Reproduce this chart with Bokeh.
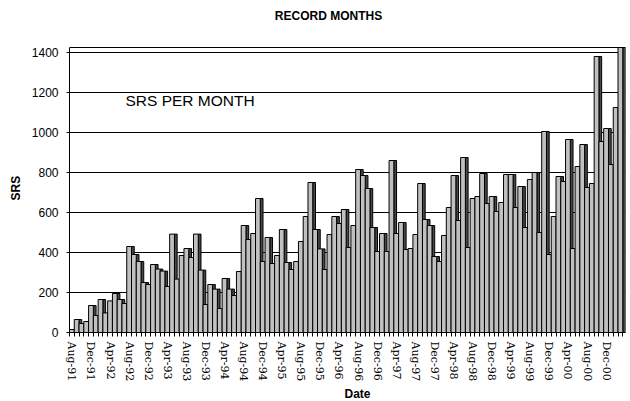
from bokeh.plotting import figure
from bokeh.models import FixedTicker, Label, Range1d, ColumnDataSource, Span, Title
from bokeh.embed import file_html
from bokeh.resources import INLINE

# SRS per month, Aug-91 .. Mar-01
srs = [15, 65, 45, 55, 135, 85, 165, 98, 158, 195, 165, 145,
       430, 390, 355, 250, 240, 340, 317, 307, 230, 492, 267, 385,
       420, 375, 492, 312, 140, 240, 217, 120, 270, 217, 185, 305,
       535, 465, 495, 670, 355, 475, 345, 385, 515, 350, 315, 355,
       455, 580, 750, 515, 418, 315, 490, 580, 545, 615, 425, 535,
       815, 785, 720, 525, 405, 495, 405, 860, 495, 550, 415, 420,
       490, 745, 565, 535, 380, 355, 485, 625, 785, 560, 875, 425,
       670, 680, 795, 645, 680, 605, 650, 790, 790, 625, 730, 525,
       765, 800, 500, 1005, 390, 580, 780, 755, 965, 420, 830, 940,
       725, 745, 1380, 955, 1020, 840, 1125, 1500]

tick_labels = ["Aug-91", "Dec-91", "Apr-92", "Aug-92", "Dec-92", "Apr-93",
               "Aug-93", "Dec-93", "Apr-94", "Aug-94", "Dec-94", "Apr-95",
               "Aug-95", "Dec-95", "Apr-96", "Aug-96", "Dec-96", "Apr-97",
               "Aug-97", "Dec-97", "Apr-98", "Aug-98", "Dec-98", "Apr-99",
               "Aug-99", "Dec-99", "Apr-00", "Aug-00", "Dec-00"]
label_step = 4
y_ticks = [0, 200, 400, 600, 800, 1000, 1200, 1400]

Y_TOP = 1425      # top of the chart's value axis (bars are clipped here)
SIDE = 0.57       # depth of the 3D side face, in category widths
n = len(srs)
idx = list(range(n))
shown = [min(v, Y_TOP) for v in srs]
src = ColumnDataSource(dict(
    left=[i - 0.5 for i in idx],
    right=[i + 0.5 for i in idx],
    sl=[i + 0.5 for i in idx],
    sr=[i + 0.5 + SIDE for i in idx],
    top=shown,
))

p = figure(width=630, height=401, output_backend="svg", toolbar_location=None,
           x_range=Range1d(-0.5, n - 0.5 + SIDE), y_range=Range1d(0, 1650),
           min_border_left=69, min_border_right=5, min_border_top=2,
           min_border_bottom=69)
p.background_fill_color = "white"
p.border_fill_color = "white"
p.outline_line_color = None

# sides (3D effect) then fronts
p.quad(left="sl", right="sr", bottom=0, top="top", source=src,
       fill_color="#484848", line_color="black", line_width=1)
p.quad(left="left", right="right", bottom=0, top="top", source=src,
       fill_color="#C0C0C0", line_color="black", line_width=1)

# top edge of the chart wall
p.add_layout(Span(location=Y_TOP, dimension="width", line_color="black",
                  line_width=1))

tick_pos = [label_step * k for k in range(len(tick_labels))]
xa = p.xaxis[0]
xa.ticker = FixedTicker(ticks=tick_pos, minor_ticks=[i - 0.5 for i in range(n + 1)])
xa.major_label_overrides = {pos: lab for pos, lab in zip(tick_pos, tick_labels)}
xa.major_label_orientation = "vertical"
xa.major_label_text_font = "DejaVu Serif"
xa.major_label_text_font_size = "11px"
xa.major_label_text_color = "black"
xa.major_tick_out = 0
xa.major_tick_in = 0
xa.minor_tick_out = 4
xa.minor_tick_in = 0
xa.minor_tick_line_color = "black"
xa.major_label_standoff = 5
xa.axis_line_color = "black"

ya = p.yaxis[0]
ya.bounds = (0, Y_TOP)
ya.ticker = FixedTicker(ticks=y_ticks, minor_ticks=[])
ya.major_tick_out = 3
ya.major_tick_in = 0
ya.minor_tick_out = 0
ya.major_tick_line_color = "black"
ya.major_label_standoff = 8
ya.major_label_text_font = "Liberation Sans"
ya.major_label_text_font_size = "12px"
ya.major_label_text_color = "black"
ya.axis_line_color = "black"

p.xgrid.visible = False
p.ygrid.grid_line_color = "black"
p.ygrid.grid_line_width = 1

# axis titles as side-panel titles so they can sit where the reference has them
p.add_layout(Title(text="SRS", align="left", offset=132, standoff=12,
                   text_font="Liberation Sans", text_font_size="12px",
                   text_font_style="bold", text_color="black"), "left")
p.add_layout(Title(text="Date", align="left", offset=275, standoff=0,
                   text_font="Liberation Sans", text_font_size="12px",
                   text_font_style="bold", text_color="black"), "below")

p.add_layout(Label(x=259, y=317, x_units="screen", y_units="screen",
                   text="RECORD MONTHS", text_font="Liberation Sans",
                   text_font_size="12px", text_font_style="bold",
                   text_color="black", text_align="center",
                   text_baseline="middle"))
p.add_layout(Label(x=56, y=232, x_units="screen", y_units="screen",
                   text="SRS PER MONTH", text_font="Liberation Sans",
                   text_font_size="15.5px", text_color="black",
                   text_align="left", text_baseline="middle"))

open("out.html", "w").write(file_html(p, INLINE))
